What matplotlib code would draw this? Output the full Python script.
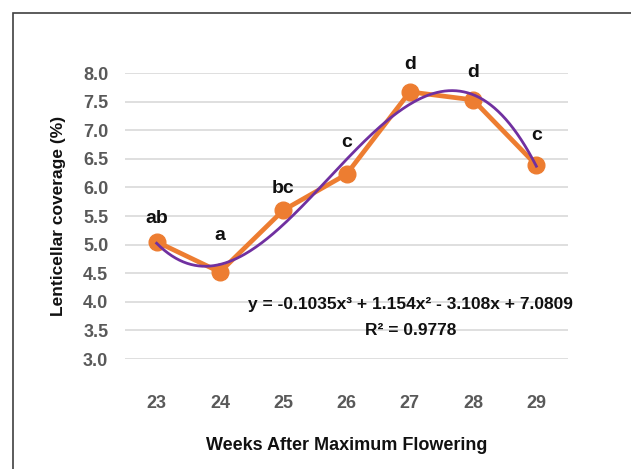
import numpy as np
import matplotlib
matplotlib.use("Agg")
import matplotlib.pyplot as plt
from matplotlib.patches import Rectangle

plt.rcParams['font.family'] = ['Liberation Sans', 'DejaVu Sans']

weeks = ['23', '24', '25', '26', '27', '28', '29']
coverage = [5.05, 4.52, 5.60, 6.23, 7.67, 7.53, 6.39]
letters = ['ab', 'a', 'bc', 'c', 'd', 'd', 'c']
letter_offsets = [17, 26, 16, 23, 20, 20, 21]  # points above marker

# cubic trendline coefficients (from the chart equation), x = 1..7
trend_coef = [-0.1035, 1.154, -3.108, 7.0809]

ORANGE = '#ED7D31'
PURPLE = '#7030A0'

fig = plt.figure(figsize=(6.31, 4.69), dpi=100)
fig.patches.append(Rectangle((13 / 631, -0.1), 1.2, 1 - 13 / 469 + 0.1,
                             transform=fig.transFigure, fill=False,
                             edgecolor='#404040', linewidth=1.2))

ax = fig.add_axes([125 / 631, 1 - 359 / 469, 443 / 631, 286 / 469])

x = np.arange(1, len(weeks) + 1)
ax.plot(x, coverage, color=ORANGE, linewidth=3.4, marker='o',
        markersize=12, zorder=3)

xs = np.linspace(1, 7, 200)
ax.plot(xs, np.polyval(trend_coef, xs), color=PURPLE, linewidth=2.0, zorder=4)

for xi, yi, lab, off in zip(x, coverage, letters, letter_offsets):
    ax.annotate(lab, (xi, yi), xytext=(0, off), textcoords='offset points',
                ha='center', va='center', fontsize=14, fontweight='bold',
                color='#111111')

ax.text(0.645, 0.19, 'y = -0.1035x³ + 1.154x² - 3.108x + 7.0809',
        transform=ax.transAxes, ha='center', va='center', fontsize=12.5,
        fontweight='bold', color='#111111')
ax.text(0.645, 0.10, 'R² = 0.9778', transform=ax.transAxes,
        ha='center', va='center', fontsize=12.5, fontweight='bold',
        color='#111111')

ax.set_xlim(0.5, 7.5)
ax.set_ylim(3, 8)
ax.set_yticks(np.arange(3, 8.01, 0.5))
ax.set_yticklabels([f'{v:.1f}' for v in np.arange(3, 8.01, 0.5)])
ax.set_xticks(x)
ax.set_xticklabels(weeks)
ax.grid(axis='y', color='#D9D9D9', linewidth=1.2)
ax.set_axisbelow(True)
for s in ax.spines.values():
    s.set_visible(False)
ax.tick_params(length=0, labelsize=13, labelcolor='#595959')
ax.tick_params(axis='x', pad=26)
ax.tick_params(axis='y', pad=12)
for t in ax.get_xticklabels() + ax.get_yticklabels():
    t.set_fontweight('bold')

ax.set_ylabel('Lenticellar coverage (%)', fontsize=12.5, fontweight='bold',
              color='#111111', labelpad=12)
ax.set_xlabel('Weeks After Maximum Flowering', fontsize=13, fontweight='bold',
              color='#111111', labelpad=18)

fig.savefig('out.png', dpi=100)
